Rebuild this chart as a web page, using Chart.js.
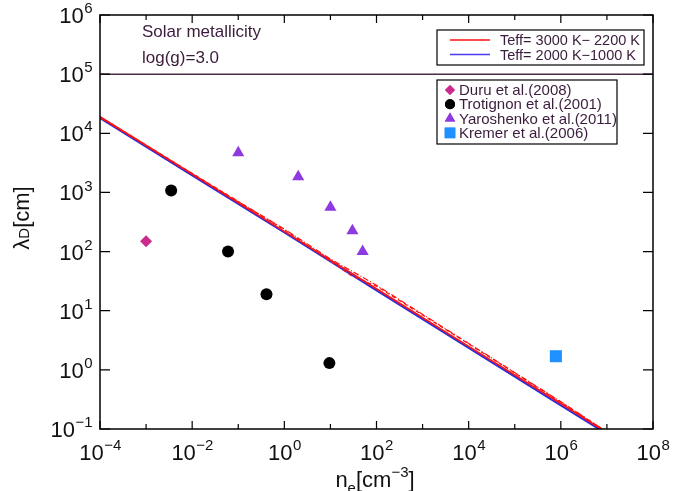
<!DOCTYPE html>
<html>
<head>
<meta charset="utf-8">
<script src="https://cdn.jsdelivr.net/npm/chart.js@4.4.1/dist/chart.umd.min.js"></script>
<style>
  html, body { margin: 0; padding: 0; background: #fff; }
</style>
</head>
<body>
<canvas id="chart" width="673" height="491" style="width:673px;height:491px"></canvas>
<script>
// model curves (n_e, lambda_D)
const blueX = [1e-4, 1e-2, 1, 1e2, 1e4, 1e6, 7e6];
const blueY = [1.8e4, 1.95e3, 210, 22, 2.35, 0.25, 0.098];
const red1X = [1e-4, 1e-2, 1, 1e2, 1e4, 1e6, 7.5e6];
const red1Y = [1.9e4, 2.05e3, 220, 23.5, 2.5, 0.27, 0.1];
const red2X = [1e-4, 1e-2, 1, 30, 1e2, 1e4, 1e6, 8e6];
const red2Y = [1.9e4, 2.1e3, 235, 38, 26, 2.75, 0.285, 0.1];
const red3X = [1e-4, 1e-2, 1, 10, 1e2, 1e4, 1e6, 8e6];
const red3Y = [1.85e4, 2.05e3, 240, 75, 27, 2.8, 0.29, 0.1];
const refLineX = [1e-4, 1e8];
const refLineY = [1e5, 1e5];

// observations
const duruX = [1e-3];
const duruY = [150];
const trotX = [3.5e-3, 0.06, 0.41, 9.5];
const trotY = [1080, 100, 19, 1.3];
const yaroX = [0.1, 2, 10, 30, 50];
const yaroY = [4700, 1850, 560, 225, 100];
const kremX = [7.8e5];
const kremY = [1.7];

const xTickExp = [-4, -2, 0, 2, 4, 6, 8];
const yTickExp = [-1, 0, 1, 2, 3, 4, 5, 6];

const modelLabels = ["Teff= 3000 K\u2212 2200 K", "Teff= 2000 K\u22121000 K"];
const obsLabels = ["Duru et al.(2008)", "Trotignon et al.(2001)", "Yaroshenko et al.(2011)", "Kremer et al.(2006)"];

const pts = (xs, ys) => xs.map((x, i) => ({ x: x, y: ys[i] }));

const RED = "#ff1010";
const BLUE = "#2c2cd8";
const PINK = "#cc2a8e";
const PURPLE = "#8f3ae0";
const SKY = "#1e90ff";
const TXT = "#3a1c3c";
const FONT = "'Liberation Sans', Arial, sans-serif";

function pow10(ctx, exp, x, y, align, size) {
  const big = size + "px " + FONT;
  const small = Math.round(size * 0.7) + "px " + FONT;
  const e = String(exp).replace("-", "\u2212");
  ctx.font = big;
  const w1 = ctx.measureText("10").width;
  ctx.font = small;
  const w2 = ctx.measureText(e).width;
  let left = x;
  if (align === "right") left = x - w1 - w2;
  if (align === "center") left = x - (w1 + w2) / 2;
  ctx.textAlign = "left";
  ctx.textBaseline = "alphabetic";
  ctx.font = big;
  ctx.fillText("10", left, y);
  ctx.font = small;
  ctx.fillText(e, left + w1 + 0.5, y - size * 0.45);
}

const decor = {
  id: "decor",
  afterDraw(chart) {
    const ctx = chart.ctx;
    const xs = chart.scales.x, ys = chart.scales.y;
    const a = chart.chartArea;
    ctx.save();
    ctx.strokeStyle = "#000";
    ctx.fillStyle = "#000";
    ctx.lineWidth = 1.5;
    ctx.strokeRect(a.left, a.top, a.right - a.left, a.bottom - a.top);

    // x ticks, top and bottom, inward
    ctx.lineWidth = 1.2;
    for (let e = -4; e <= 8; e++) {
      const px = xs.getPixelForValue(Math.pow(10, e));
      const len = e % 2 === 0 ? 8 : 5;
      ctx.beginPath();
      ctx.moveTo(px, a.bottom); ctx.lineTo(px, a.bottom - len);
      ctx.moveTo(px, a.top); ctx.lineTo(px, a.top + len);
      ctx.stroke();
    }
    // y ticks, left and right, inward
    yTickExp.forEach(e => {
      const py = ys.getPixelForValue(Math.pow(10, e));
      ctx.beginPath();
      ctx.moveTo(a.left, py); ctx.lineTo(a.left + 10, py);
      ctx.moveTo(a.right, py); ctx.lineTo(a.right - 10, py);
      ctx.stroke();
    });

    // tick labels
    ctx.fillStyle = "#111";
    xTickExp.forEach(e => {
      pow10(ctx, e, xs.getPixelForValue(Math.pow(10, e)), 460, "center", 22);
    });
    yTickExp.forEach(e => {
      pow10(ctx, e, 92, ys.getPixelForValue(Math.pow(10, e)) + 8, "right", 22);
    });

    // axis titles
    ctx.textBaseline = "alphabetic";
    ctx.textAlign = "left";
    // x title: n_e[cm^-3]
    let parts = [["n", 22, 0], ["e", 15, 6], ["[cm", 22, 0], ["\u22123", 15, -10], ["]", 22, 0]];
    let total = 0;
    parts.forEach(p => { ctx.font = p[1] + "px " + FONT; total += ctx.measureText(p[0]).width; });
    let cx = 375 - total / 2;
    parts.forEach(p => {
      ctx.font = p[1] + "px " + FONT;
      ctx.fillText(p[0], cx, 487 + p[2]);
      cx += ctx.measureText(p[0]).width;
    });
    // y title: lambda_D[cm], rotated
    ctx.save();
    ctx.translate(29, 218);
    ctx.rotate(-Math.PI / 2);
    parts = [["\u03bb", 22, 0], ["D", 15, 6], ["[cm]", 22, 0]];
    total = 0;
    parts.forEach(p => { ctx.font = p[1] + "px " + FONT; total += ctx.measureText(p[0]).width; });
    cx = -total / 2;
    parts.forEach(p => {
      ctx.font = p[1] + "px " + FONT;
      ctx.fillText(p[0], cx, 0);
      cx += ctx.measureText(p[0]).width;
    });
    ctx.restore();

    // annotation
    ctx.fillStyle = TXT;
    ctx.font = "17px " + FONT;
    ctx.textBaseline = "middle";
    ctx.fillText("Solar metallicity", 142, 32);
    ctx.fillText("log(g)=3.0", 142, 58);

    // model legend
    ctx.fillStyle = "#fff";
    ctx.fillRect(437, 30, 207, 35);
    ctx.strokeStyle = "#000";
    ctx.lineWidth = 1.2;
    ctx.strokeRect(437, 30, 207, 35);
    [RED, "#4a3af0"].forEach((c, i) => {
      const y = 40 + i * 14.5;
      ctx.strokeStyle = c;
      ctx.lineWidth = 1.3;
      ctx.beginPath(); ctx.moveTo(450, y); ctx.lineTo(490, y); ctx.stroke();
      ctx.fillStyle = TXT;
      ctx.font = "14.5px " + FONT;
      ctx.fillText(modelLabels[i], 500, y + 1);
    });

    // observation legend
    ctx.fillStyle = "#fff";
    ctx.fillRect(437, 80, 180, 64);
    ctx.strokeStyle = "#000";
    ctx.lineWidth = 1.2;
    ctx.strokeRect(437, 80, 180, 64);
    const styles = [["rectRot", 5, PINK], ["circle", 5, "#000"], ["triangle", 6, PURPLE], ["rect", 7.5, SKY]];
    styles.forEach((s, i) => {
      const y = 90 + i * 14.3;
      ctx.fillStyle = s[2];
      ctx.strokeStyle = s[2];
      Chart.helpers.drawPoint(ctx, { pointStyle: s[0], radius: s[1], borderWidth: 0 }, 450, y);
      ctx.fill();
      ctx.fillStyle = TXT;
      ctx.font = "15px " + FONT;
      ctx.fillText(obsLabels[i], 459, y + 1);
    });
    ctx.restore();
  }
};

const lineDs = (data, color, width, dash) => ({
  type: "scatter", data: data, showLine: true, borderColor: color, borderWidth: width,
  borderDash: dash, pointRadius: 0, fill: false, tension: 0
});
const markDs = (data, style, r, color) => ({
  type: "scatter", data: data, pointStyle: style, pointRadius: r,
  backgroundColor: color, borderColor: color, borderWidth: 0, showLine: false
});

new Chart(document.getElementById("chart"), {
  type: "scatter",
  data: {
    datasets: [
      lineDs(pts(refLineX, refLineY), "#4a2c48", 1.5, []),
      lineDs(pts(red3X, red3Y), RED, 1.2, [6, 2, 1, 2]),
      lineDs(pts(red2X, red2Y), RED, 1.2, [4, 3]),
      lineDs(pts(red1X, red1Y), RED, 1.6, []),
      lineDs(pts(blueX, blueY), BLUE, 2, []),
      markDs(pts(duruX, duruY), "rectRot", 6, PINK),
      markDs(pts(trotX, trotY), "circle", 6, "#000"),
      markDs(pts(yaroX, yaroY), "triangle", 7, PURPLE),
      markDs(pts(kremX, kremY), "rect", 8.5, SKY)
    ]
  },
  options: {
    responsive: false,
    devicePixelRatio: 1,
    animation: false,
    layout: { padding: { left: 100, top: 15, right: 20, bottom: 62 } },
    plugins: { legend: { display: false }, tooltip: { enabled: false } },
    scales: {
      x: { type: "logarithmic", min: 1e-4, max: 1e8, display: false },
      y: { type: "logarithmic", min: 1e-1, max: 1e6, display: false }
    }
  },
  plugins: [decor]
});
</script>
</body>
</html>
